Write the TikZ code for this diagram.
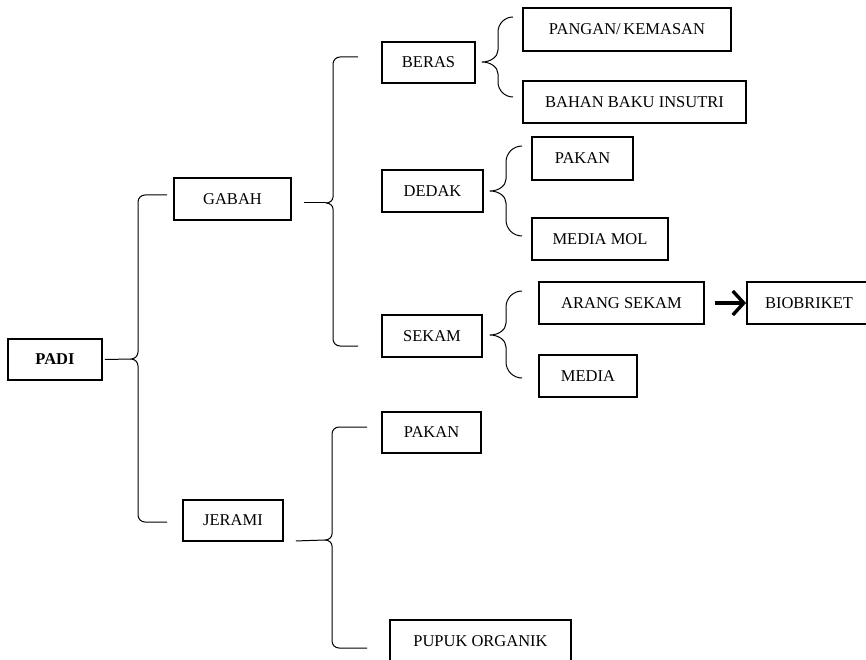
\documentclass[tikz,border=0pt]{standalone}
\usepackage{fontspec}
\setmainfont{Liberation Serif}
\usetikzlibrary{arrows.meta}

\tikzset{
  item/.style={draw, line width=1.9pt, inner sep=0pt, font=\fontsize{16.5}{19}\selectfont},
  bracestyle/.style={line width=1pt, line join=round},
  link/.style={line width=1pt},
  flow/.style={line width=3.4pt, -{Straight Barb[length=11pt,width=24pt,line width=3.4pt]}}
}

% #1 spine x, #2 top y, #3 middle y, #4 bottom y, #5 end x, #6 tip x,
% #7 end curl radius, #8 half height of the middle cusp
\newcommand\curlbrace[8]{%
  \draw[bracestyle] (#5,#2) -- ({#1+#7},#2)
    .. controls ({#1+0.45*#7},#2) and (#1,{#2+0.45*#7}) .. (#1,{#2+#7})
    -- (#1,{#3-#8})
    .. controls (#1,{#3-0.45*#8}) and ({#6+0.55*(#1-#6)},#3) .. (#6,#3)
    .. controls ({#6+0.55*(#1-#6)},#3) and (#1,{#3+0.45*#8}) .. (#1,{#3+#8})
    -- (#1,{#4-#7})
    .. controls (#1,{#4-0.45*#7}) and ({#1+0.45*#7},#4) .. ({#1+#7},#4)
    -- (#5,#4);}

\begin{document}
\begin{tikzpicture}[x=1pt,y=-1pt]
\useasboundingbox (0,0) rectangle (866,660);
\clip (0,0) rectangle (866,660);

% level 0
\node[item, minimum width=94pt, minimum height=41pt, font=\fontsize{16.5}{19}\selectfont\bfseries] (padi) at (55,359.5) {PADI};

% level 1
\node[item, minimum width=117pt, minimum height=42pt] (gabah) at (232.5,199) {GABAH};
\node[item, minimum width=100pt, minimum height=41pt] (jerami) at (233,520.5) {JERAMI};

% level 2
\node[item, minimum width=93pt, minimum height=41pt] (beras) at (428.5,62.5) {BERAS};
\node[item, minimum width=101pt, minimum height=42pt] (dedak) at (432.5,191) {DEDAK};
\node[item, minimum width=100pt, minimum height=42pt] (sekam) at (432,336) {SEKAM};
\node[item, minimum width=99pt, minimum height=41pt] (pakanj) at (431.5,432.5) {PAKAN};
\node[item, minimum width=181pt, minimum height=42pt] (pupuk) at (480.5,641) {PUPUK ORGANIK};

% level 3
\node[item, minimum width=208pt, minimum height=43pt] (pangan) at (627,29.5) {PANGAN/\,KEMASAN};
\node[item, minimum width=223pt, minimum height=42pt] (bahan) at (634.5,102) {BAHAN BAKU INSUTRI};
\node[item, minimum width=101pt, minimum height=43pt] (pakand) at (582.5,158.5) {PAKAN};
\node[item, minimum width=136pt, minimum height=42pt] (mol) at (600,239) {MEDIA MOL};
\node[item, minimum width=165pt, minimum height=42pt] (arang) at (621.5,303) {ARANG SEKAM};
\node[item, minimum width=98pt, minimum height=42pt] (media) at (588,376) {MEDIA};

% level 4
\node[item, minimum width=124pt, minimum height=42pt] (bio) at (809,303) {BIOBRIKET};

% braces
\curlbrace{138}{195}{359}{522}{167}{131}{7}{7}
\curlbrace{333}{57}{203}{346}{358}{326}{7}{6}
\curlbrace{332}{427}{540}{648}{367}{325}{7}{6}
\curlbrace{498}{17}{62}{97}{513}{482}{15}{12}
\curlbrace{506}{146}{191}{236}{522}{490}{16}{12}
\curlbrace{506}{291}{335}{378}{522}{490}{16}{12}

% brace tips
\coordinate (padiTip) at (131,359);
\coordinate (gabahTip) at (326,203);
\coordinate (jeramiTip) at (325,540);

% connectors into the braces
\draw[link] ([xshift=2pt]padi.east) -- (padiTip);
\draw[link] ([xshift=12pt,yshift=-4pt]gabah.east) -- (gabahTip);
\draw[link] ([xshift=12pt,yshift=1pt]jerami.south east) -- (jeramiTip);

% arrow to the end product
\draw[flow] ([xshift=10pt]arang.east) -- (bio.west);
\end{tikzpicture}
\end{document}
